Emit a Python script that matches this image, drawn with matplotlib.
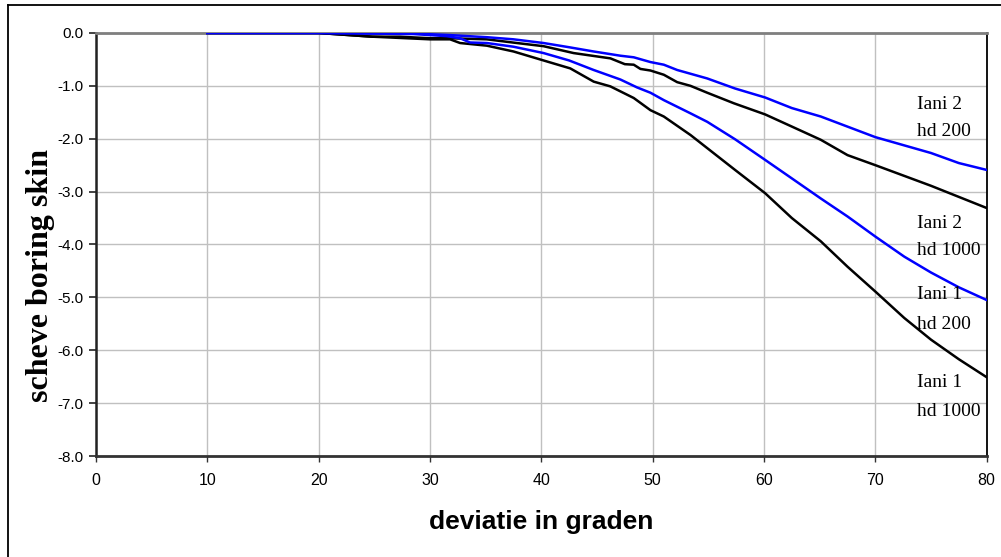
import matplotlib
matplotlib.use("Agg")
import matplotlib.pyplot as plt
from matplotlib.lines import Line2D

plt.rcParams['axes.unicode_minus'] = False

# --- curve data (deviation in degrees, skin) ---
x_iani2_hd200 = [10, 20, 28.5, 31.8, 35.1, 37.5, 40.2, 42.5, 44.7, 47.1, 48.3, 49.8, 51.0,
                 52.2, 54.9, 57.4, 60.1, 62.5, 65.1, 70.0, 75.0, 77.5, 80]
y_iani2_hd200 = [0, 0, -0.01, -0.04, -0.08, -0.12, -0.19, -0.27, -0.35, -0.43, -0.46, -0.55, -0.60,
                 -0.70, -0.86, -1.05, -1.22, -1.42, -1.58, -1.97, -2.27, -2.46, -2.59]

x_iani2_hd1000 = [10, 20, 24.8, 27.3, 30.0, 31.8, 35.1, 37.8, 40.2, 42.9, 46.2, 47.5, 48.3, 48.9,
                  49.8, 51.0, 52.2, 53.4, 54.9, 57.3, 60.1, 62.5, 65.1, 67.5, 70.0, 75.0, 80]
y_iani2_hd1000 = [0, 0, -0.07, -0.07, -0.10, -0.10, -0.12, -0.19, -0.25, -0.38, -0.48, -0.59, -0.60, -0.68,
                  -0.71, -0.79, -0.93, -1.00, -1.13, -1.33, -1.54, -1.77, -2.02, -2.31, -2.50, -2.89, -3.31]

x_iani1_hd200 = [10, 20, 28.5, 31.5, 32.7, 33.6, 35.1, 37.5, 40.2, 42.5, 44.7, 47.1, 48.6, 49.8,
                 51.0, 53.4, 54.9, 57.4, 60.1, 62.5, 65.1, 67.5, 70.0, 72.6, 75.0, 77.5, 80]
y_iani1_hd200 = [0, 0, -0.02, -0.06, -0.10, -0.18, -0.19, -0.26, -0.38, -0.52, -0.70, -0.88, -1.03, -1.13,
                 -1.27, -1.52, -1.68, -2.01, -2.40, -2.75, -3.13, -3.47, -3.85, -4.23, -4.53, -4.81, -5.05]

x_iani1_hd1000 = [10, 20, 24.8, 30.0, 31.8, 32.7, 35.1, 37.5, 40.2, 42.6, 44.7, 46.2, 48.3, 49.8,
                  51.0, 53.4, 57.4, 60.1, 62.5, 65.1, 67.5, 70.0, 72.6, 75.0, 77.5, 80]
y_iani1_hd1000 = [0, 0, -0.07, -0.12, -0.12, -0.19, -0.24, -0.35, -0.52, -0.67, -0.92, -1.01, -1.23, -1.46,
                  -1.58, -1.93, -2.59, -3.03, -3.50, -3.94, -4.42, -4.89, -5.39, -5.80, -6.17, -6.51]

x_ticks = [0, 10, 20, 30, 40, 50, 60, 70, 80]
y_ticks = [0, -1, -2, -3, -4, -5, -6, -7, -8]

# label text (first line, second line, baseline y of each line)
labels = [("Iani 2", "hd 200", -1.44, -1.95),
          ("Iani 2", "hd 1000", -3.69, -4.19),
          ("Iani 1", "hd 200", -5.03, -5.59),
          ("Iani 1", "hd 1000", -6.69, -7.25)]
label_x = 73.7

# --- figure ---
fig = plt.figure(figsize=(10.01, 5.57), dpi=100)
ax = fig.add_axes([0.0959, 0.1813, 0.8898, 0.7595])

ax.plot(x_iani2_hd1000, y_iani2_hd1000, color="black", lw=1.8, zorder=3)
ax.plot(x_iani1_hd1000, y_iani1_hd1000, color="black", lw=1.8, zorder=3)
ax.plot(x_iani2_hd200, y_iani2_hd200, color="#0000ff", lw=1.8, zorder=4)
ax.plot(x_iani1_hd200, y_iani1_hd200, color="#0000ff", lw=1.8, zorder=4)

for l1, l2, y1, y2 in labels:
    ax.text(label_x, y1, l1, family="Liberation Serif", fontsize=14, va="baseline", ha="left", zorder=5)
    ax.text(label_x, y2, l2, family="Liberation Serif", fontsize=14, va="baseline", ha="left", zorder=5)

ax.set_xlim(0, 80)
ax.set_ylim(-8, 0)
ax.set_xticks(x_ticks)
ax.set_yticks(y_ticks)
ax.set_yticklabels([f"{v:.1f}" for v in y_ticks])
ax.grid(True, color="#c0c0c0", lw=1.0, zorder=0)
ax.set_axisbelow(True)

for lab in ax.get_xticklabels():
    lab.set_family("Liberation Sans")
    lab.set_fontsize(11.5)
for lab in ax.get_yticklabels():
    lab.set_family("Liberation Sans")
    lab.set_fontsize(11)
ax.tick_params(axis="y", direction="out", length=5, width=1.2, pad=4, color="#222222")
ax.tick_params(axis="x", direction="out", length=4, width=1.0, pad=8, color="#333333")

ax.spines["top"].set_color("#7f7f7f")
ax.spines["top"].set_linewidth(2.0)
ax.spines["left"].set_color("#222222")
ax.spines["left"].set_linewidth(1.8)
ax.spines["bottom"].set_color("#333333")
ax.spines["bottom"].set_linewidth(2.0)
ax.spines["right"].set_color("black")
ax.spines["right"].set_linewidth(1.3)

fig.text(541 / 1001, 1 - 522 / 557, "deviatie in graden", family="Liberation Sans",
         fontweight="bold", fontsize=19, ha="center", va="center")
fig.text(41 / 1001, 1 - 276 / 557, "scheve boring skin", family="Liberation Serif",
         fontweight="bold", fontsize=23, ha="center", va="center", rotation=90)

# outer chart frame (cut off on the right and bottom)
fx = 7.5 / 1001
fy = 1 - 5 / 557
fig.add_artist(Line2D([fx, fx], [0, fy], transform=fig.transFigure, color="black", lw=1.3))
fig.add_artist(Line2D([fx, 1], [fy, fy], transform=fig.transFigure, color="black", lw=1.3))

fig.savefig("out.png", dpi=100)
